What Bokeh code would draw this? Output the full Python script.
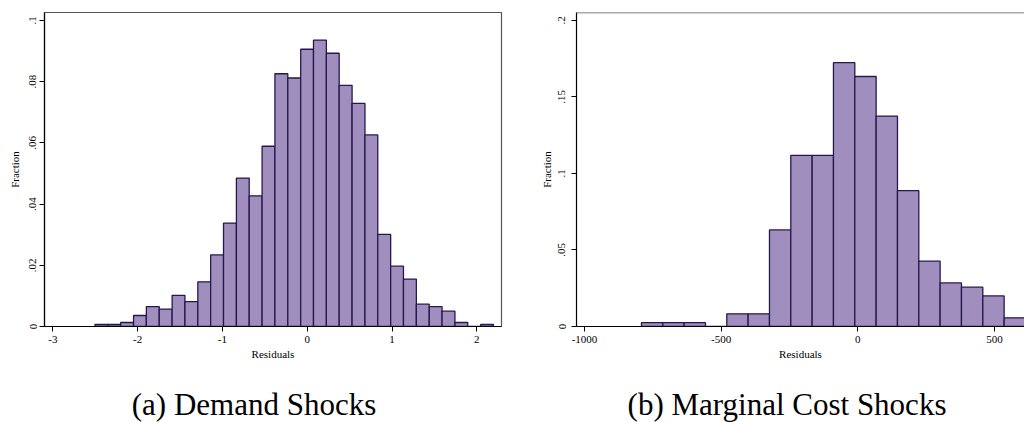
from bokeh.plotting import figure
from bokeh.layouts import row, column
from bokeh.models import Range1d, FixedTicker, Span, Label
from bokeh.embed import file_html
from bokeh.resources import INLINE

# ---- data: demand shocks histogram ----
demand_edges = [-2.503, -2.351, -2.200, -2.048, -1.897, -1.745, -1.593, -1.442,
                -1.290, -1.139, -0.987, -0.835, -0.684, -0.532, -0.381, -0.229,
                -0.077, 0.074, 0.226, 0.377, 0.529, 0.681, 0.832, 0.984, 1.135,
                1.287, 1.439, 1.590, 1.742, 1.893, 2.045, 2.196]
demand_frac = [0.00065, 0.00065, 0.0013, 0.0036, 0.0065, 0.0057, 0.0102, 0.0081,
               0.0146, 0.0234, 0.0338, 0.0485, 0.0427, 0.0589, 0.0826, 0.0812,
               0.0906, 0.0936, 0.0893, 0.0788, 0.0729, 0.0626, 0.0301, 0.0197,
               0.0155, 0.0073, 0.0065, 0.0050, 0.0013, 0.0, 0.00065]
demand_xticks = [-3, -2, -1, 0, 1, 2]
demand_xlabels = ["-3", "-2", "-1", "0", "1", "2"]
demand_yticks = [0, 0.02, 0.04, 0.06, 0.08, 0.1]
demand_ylabels = ["0", ".02", ".04", ".06", ".08", ".1"]

# ---- data: marginal cost shocks histogram ----
cost_edges = [-791.6, -713.5, -635.5, -557.4, -479.4, -401.3, -323.2, -245.2,
              -167.1, -89.1, -11.0, 67.1, 145.1, 223.2, 301.2, 379.3, 457.4,
              535.4, 613.5]
cost_frac = [0.0025, 0.0025, 0.0025, 0.0, 0.0083, 0.0083, 0.0631, 0.1119,
             0.1119, 0.1724, 0.1634, 0.1375, 0.0888, 0.0427, 0.0285, 0.0257,
             0.0200, 0.0057]
cost_xticks = [-1000, -500, 0, 500]
cost_xlabels = ["-1000", "-500", "0", "500"]
cost_yticks = [0, 0.05, 0.1, 0.15, 0.2]
cost_ylabels = ["0", ".05", ".1", ".15", ".2"]

captions = ["(a) Demand Shocks", "(b) Marginal Cost Shocks"]

FILL = "#a08ebf"
EDGE = "#27184b"
FONT = "Liberation Serif"
MAIN_H = 364
CAP_H = 58


def panel(edges, frac, xr, yr, xt, xl, yt, yl, width, mleft, mright,
          ylab_standoff, outline=True):
    p = figure(width=width, height=MAIN_H, x_range=Range1d(*xr), y_range=Range1d(*yr),
               output_backend="svg", toolbar_location=None,
               min_border_left=mleft, min_border_right=mright,
               min_border_top=12, min_border_bottom=38)
    p.xgrid.visible = False
    p.ygrid.visible = False
    p.background_fill_color = "white"
    p.border_fill_color = "white"
    if outline:
        p.outline_line_color = "#555555"
        p.outline_line_width = 1.2
    else:
        p.outline_line_color = None
        p.add_layout(Span(location=yr[1], dimension="width",
                          line_color="#555555", line_width=1.5))
    p.quad(left=edges[:-1], right=edges[1:], bottom=0, top=frac,
           fill_color=FILL, line_color=EDGE, line_width=1.3)

    for ax in (p.xaxis[0], p.yaxis[0]):
        ax.axis_line_color = "black"
        ax.axis_line_width = 1.2
        ax.major_tick_line_color = "black"
        ax.major_tick_in = 0
        ax.major_tick_out = 5
        ax.minor_tick_line_color = None
        ax.major_label_text_font = FONT
        ax.major_label_text_font_size = "11px"
        ax.major_label_text_color = "black"
        ax.axis_label_text_font = FONT
        ax.axis_label_text_font_size = "11px"
        ax.axis_label_text_font_style = "normal"
        ax.axis_label_text_color = "black"

    p.xaxis.ticker = FixedTicker(ticks=xt)
    p.xaxis.major_label_overrides = {t: l for t, l in zip(xt, xl)}
    p.xaxis.axis_label = "Residuals"
    p.xaxis.major_label_standoff = 4
    p.xaxis.axis_label_standoff = 2

    p.yaxis.ticker = FixedTicker(ticks=yt)
    p.yaxis.major_label_overrides = {t: l for t, l in zip(yt, yl)}
    p.yaxis.major_label_orientation = "vertical"
    p.yaxis.axis_label = "Fraction"
    p.yaxis.major_label_standoff = ylab_standoff
    p.yaxis.axis_label_standoff = 9 - ylab_standoff
    return p


def caption_fig(text, cx, width):
    c = figure(width=width, height=CAP_H, x_range=Range1d(0, width),
               y_range=Range1d(0, CAP_H), output_backend="svg",
               toolbar_location=None, x_axis_type=None, y_axis_type=None,
               min_border=0, title=None)
    c.xgrid.visible = False
    c.ygrid.visible = False
    c.outline_line_color = None
    c.background_fill_color = "white"
    c.border_fill_color = "white"
    c.add_layout(Label(x=cx, y=18, text=text, text_font=FONT,
                       text_font_size="31px", text_color="black",
                       text_align="center", text_baseline="middle"))
    return c


left = panel(demand_edges, demand_frac, (-3.098, 2.291), (0, 0.10261),
             demand_xticks, demand_xlabels, demand_yticks, demand_ylabels,
             512, 44, 11, 3)
right = panel(cost_edges, cost_frac, (-1029.3, 609.9), (0, 0.20522),
              cost_xticks, cost_xlabels, cost_yticks, cost_ylabels,
              512, 64, 0, 6, outline=False)

cap_a = caption_fig(captions[0], 253.5, 512)
cap_b = caption_fig(captions[1], 274.5, 512)

layout = column(row(left, right), row(cap_a, cap_b))
open("out.html", "w").write(file_html(layout, INLINE))
